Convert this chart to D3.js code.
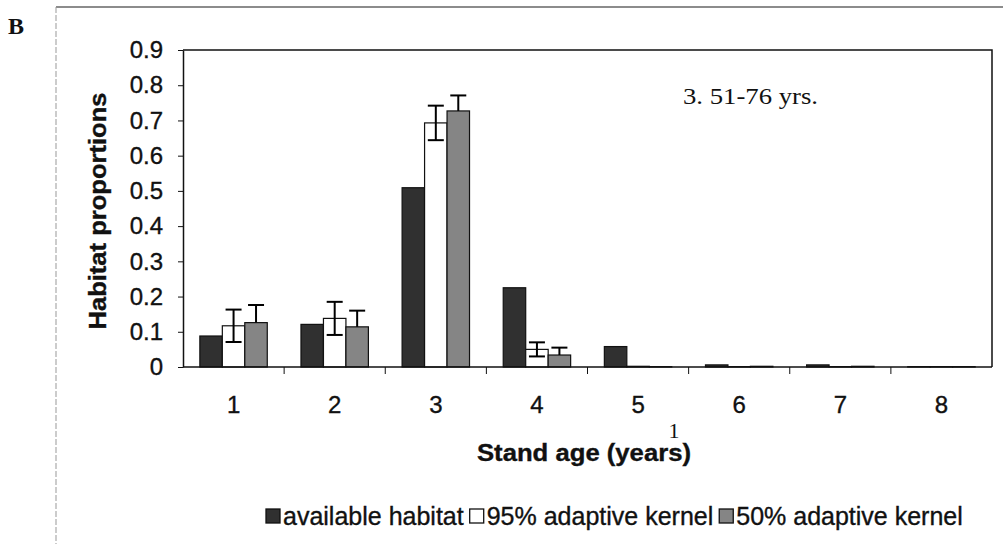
<!DOCTYPE html>
<html>
<head>
<meta charset="utf-8">
<script src="https://cdn.jsdelivr.net/npm/d3@7"></script>
<style>
  body { margin: 0; background: #fff; }
  svg { display: block; }
  .sans { font-family: "Liberation Sans", Arial, sans-serif; fill: #111; stroke: #111; stroke-width: 0.35px; }
  .serif { font-family: "Liberation Serif", "Times New Roman", serif; fill: #111; }
</style>
</head>
<body>
<script>
var width = 1003, height = 544;

// Data
var categories = ["1", "2", "3", "4", "5", "6", "7", "8"];
var seriesNames = ["available habitat", "95% adaptive kernel", "50% adaptive kernel"];
var available = [0.088, 0.121, 0.509, 0.225, 0.058, 0.006, 0.006, 0.001];
var kernel95 = [0.117, 0.138, 0.693, 0.05, 0.002, 0.001, 0.001, 0.001];
var kernel95Err = [0.046, 0.047, 0.049, 0.02, 0, 0, 0, 0];
var kernel50 = [0.126, 0.114, 0.727, 0.034, 0.001, 0.002, 0.002, 0.001];
var kernel50Err = [0.05, 0.046, 0.044, 0.021, 0, 0, 0, 0];
var yTicks = [0, 0.1, 0.2, 0.3, 0.4, 0.5, 0.6, 0.7, 0.8, 0.9];

var margin = {top: 50, right: 11, bottom: 177, left: 183};
var plotW = width - margin.left - margin.right,
    plotH = height - margin.top - margin.bottom;

var svg = d3.select("body").append("svg")
    .attr("width", width)
    .attr("height", height);

// outer panel frame (top and left edges of the scanned page)
svg.append("line").attr("x1", 56).attr("x2", width).attr("y1", 7).attr("y2", 7)
  .attr("stroke", "#666").attr("stroke-width", 1.5);
svg.append("line").attr("x1", 56).attr("x2", 56).attr("y1", 7).attr("y2", height)
  .attr("stroke", "#999").attr("stroke-width", 1).attr("stroke-dasharray", "6,2");

svg.append("text").attr("class", "serif").attr("x", 8).attr("y", 34)
  .style("font-size", "24px").style("font-weight", "bold").text("B");

var g = svg.append("g").attr("transform", "translate(" + margin.left + "," + margin.top + ")");

var x = d3.scaleBand().domain(categories).range([0, plotW]).paddingInner(0).paddingOuter(0);
var xSub = d3.scaleBand().domain(seriesNames).range([0, x.bandwidth()]).paddingInner(0).paddingOuter(0.75);
var y = d3.scaleLinear().domain([0, 0.9]).range([plotH, 0]);

// plot border (top + right)
g.append("path")
  .attr("d", "M0,0H" + plotW + "V" + plotH)
  .attr("fill", "none").attr("stroke", "#111").attr("stroke-width", 1.5);

var fills = ["#303030", "#ffffff", "#858585"];
var values = [available, kernel95, kernel50];

values.forEach(function(vals, s) {
  g.selectAll("rect.s" + s)
    .data(vals)
    .enter().append("rect")
    .attr("class", "s" + s)
    .attr("x", function(d, i) { return x(categories[i]) + xSub(seriesNames[s]); })
    .attr("y", function(d) { return y(d); })
    .attr("width", xSub.bandwidth())
    .attr("height", function(d) { return plotH - y(d); })
    .attr("fill", fills[s])
    .attr("stroke", "#111")
    .attr("stroke-width", 1.2);
});

// error bars
var capW = 8;
function errorBars(vals, errs, name, bothSides) {
  vals.forEach(function(v, i) {
    if (!errs[i]) return;
    var cx = x(categories[i]) + xSub(name) + xSub.bandwidth() / 2;
    var lo = bothSides ? v - errs[i] : v;
    var hi = v + errs[i];
    g.append("line").attr("x1", cx).attr("x2", cx).attr("y1", y(lo)).attr("y2", y(hi))
      .attr("stroke", "#000").attr("stroke-width", 2);
    g.append("line").attr("x1", cx - capW).attr("x2", cx + capW).attr("y1", y(hi)).attr("y2", y(hi))
      .attr("stroke", "#000").attr("stroke-width", 2);
    if (bothSides) {
      g.append("line").attr("x1", cx - capW).attr("x2", cx + capW).attr("y1", y(lo)).attr("y2", y(lo))
        .attr("stroke", "#000").attr("stroke-width", 2);
    }
  });
}
errorBars(kernel95, kernel95Err, seriesNames[1], true);
errorBars(kernel50, kernel50Err, seriesNames[2], false);

// y axis
var yAxis = g.append("g")
  .call(d3.axisLeft(y).tickValues(yTicks).tickSize(5).tickSizeOuter(0)
    .tickFormat(function(d) { return d === 0 ? "0" : d3.format(".1f")(d); }));
yAxis.select(".domain").attr("stroke", "#111").attr("stroke-width", 1.5);
yAxis.selectAll(".tick line").attr("stroke", "#111");
yAxis.selectAll(".tick text")
  .attr("class", "sans")
  .attr("x", -20)
  .style("font-size", "24px");

// x axis: ticks sit between categories
var xAxis = g.append("g").attr("transform", "translate(0," + plotH + ")");
xAxis.append("line").attr("x1", 0).attr("x2", plotW).attr("stroke", "#111").attr("stroke-width", 1.5);
xAxis.selectAll("line.tk")
  .data(categories.slice(1))
  .enter().append("line")
  .attr("class", "tk")
  .attr("x1", function(d) { return x(d); })
  .attr("x2", function(d) { return x(d); })
  .attr("y1", 0).attr("y2", 7)
  .attr("stroke", "#111");
xAxis.selectAll("text.lbl")
  .data(categories)
  .enter().append("text")
  .attr("class", "lbl sans")
  .attr("x", function(d) { return x(d) + x.bandwidth() / 2; })
  .attr("y", 46)
  .attr("text-anchor", "middle")
  .style("font-size", "24px")
  .text(function(d) { return d; });

// axis titles
svg.append("text")
  .attr("class", "sans")
  .attr("transform", "translate(106,211) rotate(-90)")
  .attr("text-anchor", "middle")
  .style("font-weight", "bold").style("font-size", "23px")
  .attr("textLength", 237).attr("lengthAdjust", "spacingAndGlyphs")
  .text("Habitat proportions");

svg.append("text")
  .attr("class", "sans")
  .attr("x", 584).attr("y", 461)
  .attr("text-anchor", "middle")
  .style("font-weight", "bold").style("font-size", "23px")
  .attr("textLength", 214).attr("lengthAdjust", "spacingAndGlyphs")
  .text("Stand age (years)");

// stray page number under the axis
svg.append("text").attr("class", "serif").attr("x", 674).attr("y", 438)
  .attr("text-anchor", "middle")
  .style("font-size", "22px").text("1");

// annotation
svg.append("text").attr("class", "serif").attr("x", 683).attr("y", 104)
  .style("font-size", "23px")
  .attr("textLength", 135).attr("lengthAdjust", "spacingAndGlyphs")
  .text("3. 51-76 yrs.");

// legend
var legend = svg.append("g").attr("transform", "translate(266,525)");
var lx = 0;
seriesNames.forEach(function(name, s) {
  legend.append("rect")
    .attr("x", lx).attr("y", -16)
    .attr("width", 14).attr("height", 14)
    .attr("fill", fills[s]).attr("stroke", "#111").attr("stroke-width", 1.3);
  var t = legend.append("text")
    .attr("class", "sans")
    .attr("x", lx + 17).attr("y", 0)
    .style("font-size", "25px")
    .text(name);
  lx += 17 + t.node().getComputedTextLength() + 6;
});
</script>
</body>
</html>
